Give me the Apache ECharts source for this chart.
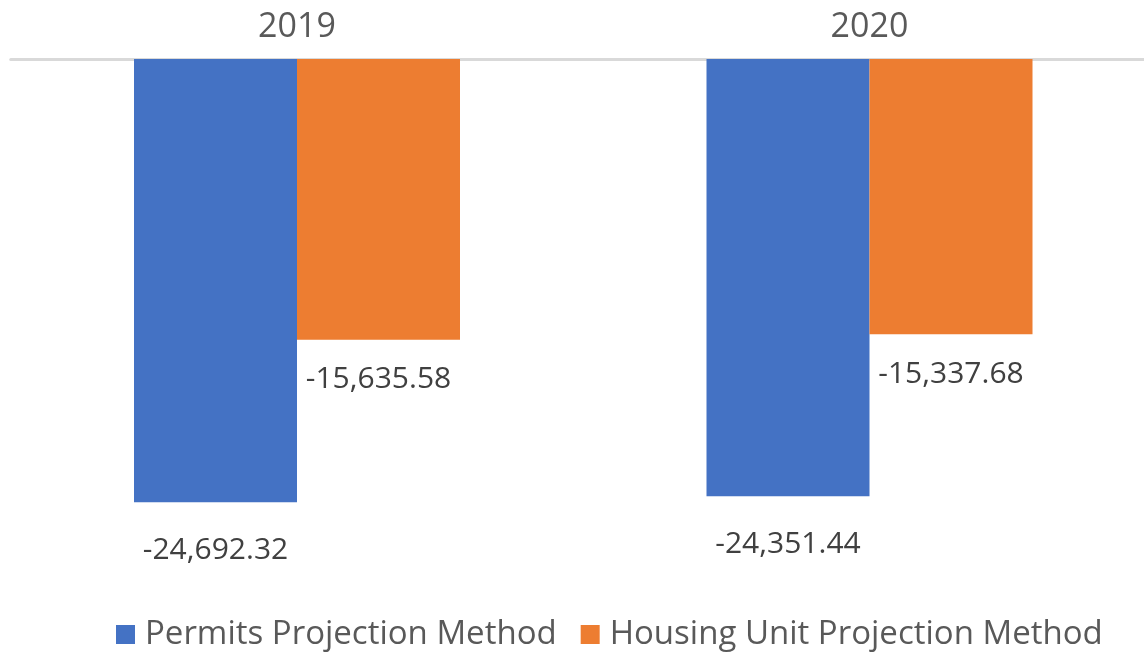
<!DOCTYPE html>
<html>
<head>
<meta charset="utf-8">
<script src="https://cdn.jsdelivr.net/npm/echarts@6/dist/echarts.min.js"></script>
<style>html,body{margin:0;padding:0;background:#fff}#c{width:1144px;height:652px}</style>
</head>
<body>
<div id="c"></div>
<script>
const categories = ['2019', '2020'];
const seriesNames = ['Permits Projection Method', 'Housing Unit Projection Method'];
const permitsValues = [-24692.32, -24351.44];
const housingValues = [-15635.58, -15337.68];

const FONT = 'Open Sans';
const fmt = v => v.toLocaleString('en-US', {minimumFractionDigits: 2, maximumFractionDigits: 2});

const chart = echarts.init(document.getElementById('c'), null, {renderer: 'canvas'});
chart.setOption({
  animation: false,
  color: ['#4472C4', '#ED7D31'],
  grid: {left: 10.75, width: 1145, top: 59, height: 538.6, containLabel: false, outerBoundsMode: 'none'},
  legend: {
    left: 116, top: 618, padding: 0,
    itemWidth: 19, itemHeight: 19, itemGap: 24, icon: 'rect',
    textStyle: {fontFamily: FONT, fontSize: 33, color: '#595959', padding: [0, 0, 0, 5]},
    data: seriesNames
  },
  xAxis: {
    type: 'category', position: 'top', data: categories,
    axisLine: {onZero: false, lineStyle: {color: '#D9D9D9', width: 3}},
    axisTick: {show: false},
    axisLabel: {fontFamily: FONT, fontSize: 34, color: '#595959', margin: 15}
  },
  yAxis: {
    type: 'value', min: -30000, max: 0, show: false,
    splitLine: {show: false}
  },
  series: [
    {
      name: seriesNames[0], type: 'bar', data: permitsValues,
      barWidth: 163, barGap: '0%',
      label: {show: true, position: 'bottom', distance: 33, formatter: p => fmt(p.value),
        fontFamily: FONT, fontSize: 30, color: '#404040'}
    },
    {
      name: seriesNames[1], type: 'bar', data: housingValues,
      barWidth: 163, barGap: '0%',
      label: {show: true, position: 'bottom', distance: 25, formatter: p => fmt(p.value),
        fontFamily: FONT, fontSize: 30, color: '#404040'}
    }
  ]
});
</script>
</body>
</html>
